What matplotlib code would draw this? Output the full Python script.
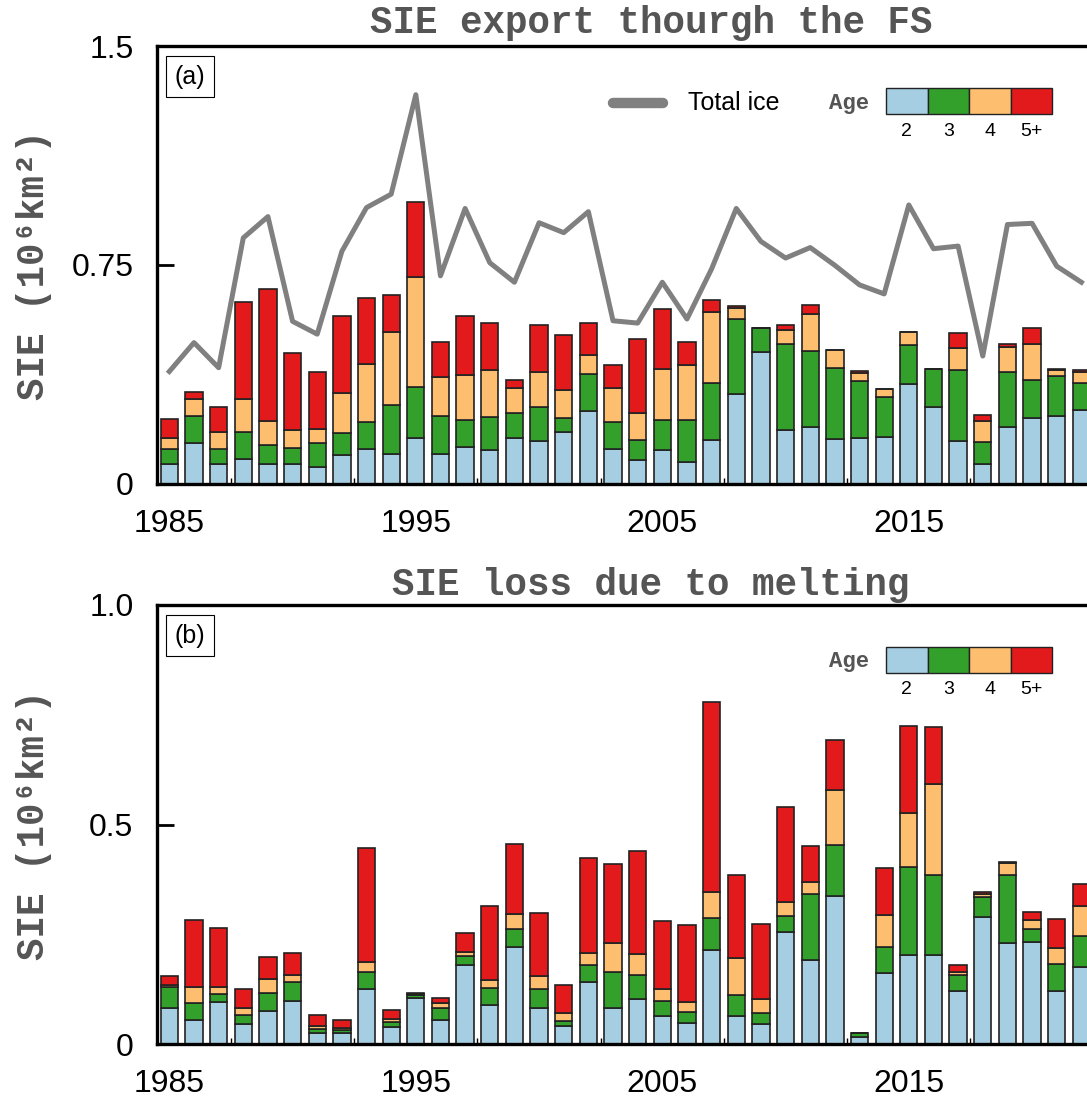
import matplotlib
matplotlib.use("Agg")
import matplotlib.pyplot as plt
import numpy as np
from matplotlib.lines import Line2D
from matplotlib.patches import Rectangle
from matplotlib.ticker import MultipleLocator

plt.rcParams["font.family"] = ["Liberation Sans", "DejaVu Sans"]

# 年份
YEARS = np.arange(1985, 2023)

# (a) 通过 FS 的海冰范围输出, 按冰龄分层 (10^6 km^2)
EXP_AGE2 = [0.066, 0.139, 0.068, 0.084, 0.066, 0.068, 0.055, 0.097, 0.117, 0.102,
            0.156, 0.101, 0.124, 0.114, 0.156, 0.147, 0.177, 0.248, 0.119, 0.082,
            0.116, 0.075, 0.148, 0.307, 0.450, 0.185, 0.195, 0.152, 0.156, 0.159,
            0.342, 0.264, 0.146, 0.066, 0.195, 0.224, 0.231, 0.252]
EXP_AGE3 = [0.053, 0.094, 0.052, 0.092, 0.066, 0.055, 0.083, 0.076, 0.093, 0.168,
            0.174, 0.129, 0.093, 0.115, 0.086, 0.114, 0.049, 0.127, 0.091, 0.068,
            0.103, 0.143, 0.198, 0.257, 0.084, 0.293, 0.260, 0.245, 0.197, 0.139,
            0.133, 0.129, 0.242, 0.075, 0.186, 0.131, 0.138, 0.094]
EXP_AGE4 = [0.038, 0.057, 0.058, 0.114, 0.081, 0.060, 0.048, 0.136, 0.201, 0.251,
            0.379, 0.134, 0.154, 0.159, 0.087, 0.122, 0.096, 0.066, 0.119, 0.093,
            0.175, 0.188, 0.241, 0.039, 0.000, 0.048, 0.126, 0.061, 0.027, 0.026,
            0.043, 0.000, 0.077, 0.073, 0.087, 0.125, 0.020, 0.036]
EXP_AGE5 = [0.065, 0.024, 0.085, 0.332, 0.453, 0.264, 0.196, 0.265, 0.226, 0.124,
            0.256, 0.121, 0.205, 0.161, 0.027, 0.160, 0.186, 0.110, 0.076, 0.251,
            0.206, 0.079, 0.042, 0.007, 0.000, 0.017, 0.032, 0.000, 0.005, 0.000,
            0.000, 0.000, 0.052, 0.022, 0.010, 0.054, 0.003, 0.007]
EXP_TOTAL = [0.384, 0.483, 0.397, 0.842, 0.915, 0.556, 0.512, 0.796, 0.946, 0.992,
             1.333, 0.712, 0.943, 0.757, 0.690, 0.894, 0.860, 0.932, 0.558, 0.550,
             0.690, 0.564, 0.736, 0.943, 0.830, 0.773, 0.809, 0.748, 0.681, 0.650,
             0.955, 0.805, 0.814, 0.437, 0.888, 0.892, 0.745, 0.690]

# (b) 融化造成的海冰范围损失
MELT_AGE2 = [0.081, 0.054, 0.096, 0.046, 0.076, 0.097, 0.024, 0.024, 0.125, 0.038,
             0.105, 0.054, 0.180, 0.089, 0.222, 0.082, 0.040, 0.142, 0.082, 0.102,
             0.064, 0.047, 0.213, 0.063, 0.045, 0.254, 0.191, 0.336, 0.017, 0.162,
             0.203, 0.203, 0.120, 0.290, 0.229, 0.232, 0.120, 0.176]
MELT_AGE3 = [0.048, 0.040, 0.019, 0.019, 0.040, 0.044, 0.010, 0.008, 0.039, 0.013,
             0.006, 0.029, 0.021, 0.039, 0.039, 0.044, 0.013, 0.039, 0.082, 0.055,
             0.034, 0.026, 0.074, 0.048, 0.025, 0.037, 0.151, 0.117, 0.008, 0.060,
             0.200, 0.181, 0.037, 0.044, 0.155, 0.029, 0.063, 0.069]
MELT_AGE4 = [0.006, 0.036, 0.015, 0.018, 0.032, 0.017, 0.006, 0.005, 0.023, 0.006,
             0.002, 0.011, 0.009, 0.017, 0.035, 0.029, 0.017, 0.026, 0.065, 0.047,
             0.027, 0.023, 0.060, 0.085, 0.032, 0.032, 0.028, 0.126, 0.000, 0.072,
             0.124, 0.209, 0.007, 0.008, 0.029, 0.021, 0.036, 0.069]
MELT_AGE5 = [0.020, 0.153, 0.135, 0.043, 0.050, 0.050, 0.026, 0.017, 0.259, 0.021,
             0.003, 0.010, 0.043, 0.169, 0.160, 0.144, 0.065, 0.217, 0.182, 0.235,
             0.155, 0.175, 0.431, 0.189, 0.171, 0.218, 0.080, 0.114, 0.000, 0.107,
             0.197, 0.129, 0.017, 0.004, 0.002, 0.019, 0.065, 0.051]

AGE_LABELS = ["2", "3", "4", "5+"]
AGE_COLORS = ["#a6cee3", "#33a02c", "#fdbf6f", "#e31a1c"]

W, H = 1087, 1103
MONO = ["Liberation Mono", "DejaVu Sans Mono"]
TITLE_GRAY = "#555555"


def px(x, y):
    """像素坐标 -> figure 坐标。"""
    return x / W, 1 - y / H


def style_axis(ax, yticks, yticklabels):
    ax.set_xlim(1984.5, 2024.5)
    ax.set_xticks([1985, 1995, 2005, 2015])
    ax.xaxis.set_minor_locator(MultipleLocator(2.5))
    ax.set_yticks(yticks)
    ax.set_yticklabels(yticklabels)
    ax.set_ylim(yticks[0], yticks[-1])
    ax.tick_params(axis="x", which="major", direction="in", length=11, width=2,
                   labelsize=23, pad=18)
    ax.tick_params(axis="x", which="minor", direction="in", length=4.5, width=1)
    ax.tick_params(axis="y", direction="in", length=12, width=2, labelsize=23, pad=17)
    for side in ["left", "bottom", "top", "right"]:
        ax.spines[side].set_linewidth(2.4)


def stacked_bars(ax, layers):
    bottom = np.zeros(len(YEARS))
    for vals, color in zip(layers, AGE_COLORS):
        vals = np.asarray(vals)
        ax.bar(YEARS, vals, width=0.7, bottom=bottom, color=color,
               edgecolor="#222222", linewidth=1.2, zorder=2)
        bottom += vals


def age_key(fig, top):
    """冰龄色块图例 (画在 figure 像素坐标上)。"""
    x0, bw = 886, 41.5
    fig.text(*px(869, top + 57), "Age", family=MONO, weight="bold", fontsize=16,
             color=TITLE_GRAY, ha="right", va="center")
    for i, (lab, col) in enumerate(zip(AGE_LABELS, AGE_COLORS)):
        xl, yb = px(x0 + i * bw, top + 68)
        fig.add_artist(Rectangle((xl, yb), bw / W, 26 / H, transform=fig.transFigure,
                                 facecolor=col, edgecolor="#222222", linewidth=1.0))
        fig.text(*px(x0 + (i + 0.5) * bw, top + 85), lab, fontsize=14,
                 ha="center", va="center")


def panel_label(ax, text):
    ax.text(0.0335, 0.93, text, transform=ax.transAxes, fontsize=18,
            ha="center", va="center",
            bbox=dict(boxstyle="square,pad=0.33", facecolor="white",
                      edgecolor="black", linewidth=0.8))


fig = plt.figure(figsize=(W / 100, H / 100), dpi=100)

# ---- (a) ----
ax_a = fig.add_axes([157 / W, 1 - 483.5 / H, 986 / W, 437.5 / H])
stacked_bars(ax_a, [EXP_AGE2, EXP_AGE3, EXP_AGE4, EXP_AGE5])
ax_a.plot(YEARS, EXP_TOTAL, color="#808080", linewidth=3.6, zorder=3)
style_axis(ax_a, [0, 0.75, 1.5], ["0", "0.75", "1.5"])
panel_label(ax_a, "(a)")
fig.text(*px(651, 33), "SIE export thourgh the FS", family=MONO, weight="bold",
         fontsize=27, color=TITLE_GRAY, ha="center", va="baseline")
fig.text(*px(34, 265), "SIE (10⁶km²)", family=MONO, weight="bold", fontsize=27,
         color=TITLE_GRAY, rotation=90, ha="center", va="center")
fig.add_artist(Line2D([613 / W, 663 / W], [1 - 103 / H] * 2, transform=fig.transFigure,
                      color="#808080", linewidth=7.5, solid_capstyle="round"))
fig.text(*px(688, 103), "Total ice", fontsize=18, ha="left", va="center")
age_key(fig, 46)

# ---- (b) ----
ax_b = fig.add_axes([157 / W, 1 - 1044 / H, 986 / W, 439 / H])
stacked_bars(ax_b, [MELT_AGE2, MELT_AGE3, MELT_AGE4, MELT_AGE5])
style_axis(ax_b, [0, 0.5, 1.0], ["0", "0.5", "1.0"])
panel_label(ax_b, "(b)")
fig.text(*px(651, 595), "SIE loss due to melting", family=MONO, weight="bold",
         fontsize=27, color=TITLE_GRAY, ha="center", va="baseline")
fig.text(*px(34, 825), "SIE (10⁶km²)", family=MONO, weight="bold", fontsize=27,
         color=TITLE_GRAY, rotation=90, ha="center", va="center")
age_key(fig, 605)

fig.savefig("out.png", dpi=100)
